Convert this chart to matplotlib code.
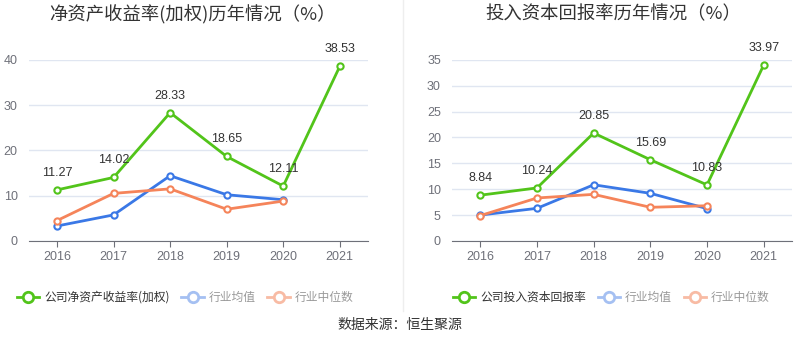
import matplotlib
matplotlib.use("Agg")
import matplotlib.pyplot as plt
from matplotlib.lines import Line2D

plt.rcParams['font.family'] = ['Noto Sans CJK SC', 'DejaVu Sans']

years = ['2016', '2017', '2018', '2019', '2020', '2021']

roe_company = [11.27, 14.02, 28.33, 18.65, 12.11, 38.53]
roe_mean = [3.3, 5.75, 14.4, 10.2, 9.1]
roe_median = [4.5, 10.5, 11.5, 7.0, 8.8]

roic_company = [8.84, 10.24, 20.85, 15.69, 10.83, 33.97]
roic_mean = [5.0, 6.3, 10.85, 9.2, 6.25]
roic_median = [4.9, 8.3, 9.0, 6.5, 6.8]

titles = ['净资产收益率(加权)历年情况（%）', '投入资本回报率历年情况（%）']
legend_company = ['公司净资产收益率(加权)', '公司投入资本回报率']
legend_mean = '行业均值'
legend_median = '行业中位数'
source = '数据来源：恒生聚源'

GREEN = '#52c41a'
BLUE = '#3a78e6'
ORANGE = '#f5845a'
GRID = '#e0e6f1'
AXIS = '#6e7079'
TICK = '#6e7079'
NUMFONT = ['Liberation Sans', 'DejaVu Sans']

fig = plt.figure(figsize=(8, 3.58), dpi=100)

configs = [
    dict(rect=[0.036, 0.327, 0.424, 0.506], comp=roe_company, mean=roe_mean,
         med=roe_median, yticks=[0, 10, 20, 30, 40], ymax=40),
    dict(rect=[0.565, 0.327, 0.425, 0.506], comp=roic_company, mean=roic_mean,
         med=roic_median, yticks=[0, 5, 10, 15, 20, 25, 30, 35], ymax=35),
]

for i, cfg in enumerate(configs):
    ax = fig.add_axes(cfg['rect'])
    x = list(range(len(years)))
    ax.plot(x[:len(cfg['mean'])], cfg['mean'], color=BLUE, lw=2, marker='o',
            ms=4.5, mfc='white', mec=BLUE, mew=1.5, zorder=3)
    ax.plot(x[:len(cfg['med'])], cfg['med'], color=ORANGE, lw=2, marker='o',
            ms=4.5, mfc='white', mec=ORANGE, mew=1.5, zorder=3)
    ax.plot(x, cfg['comp'], color=GREEN, lw=2, marker='o', ms=4.5,
            mfc='white', mec=GREEN, mew=1.5, zorder=4)
    for xi, v in zip(x, cfg['comp']):
        ax.annotate(f'{v:.2f}', (xi, v), xytext=(0, 8), textcoords='offset points',
                    ha='center', va='bottom', fontsize=9, color='#333333',
                    family=NUMFONT, zorder=5)
    ax.set_xlim(-0.5, len(years) - 0.5)
    ax.set_ylim(0, cfg['ymax'])
    ax.set_yticks(cfg['yticks'])
    ax.set_xticks(x)
    ax.set_xticklabels(years)
    ax.grid(axis='y', color=GRID, lw=1)
    ax.set_axisbelow(True)
    for s in ['top', 'right', 'left']:
        ax.spines[s].set_visible(False)
    ax.spines['bottom'].set_color(AXIS)
    ax.tick_params(axis='y', length=0, labelsize=9, labelcolor=TICK, pad=8)
    ax.tick_params(axis='x', length=4, color=AXIS, labelsize=9,
                   labelcolor=TICK, pad=3)
    for lbl in ax.get_xticklabels() + ax.get_yticklabels():
        lbl.set_family(NUMFONT)

    fig.text(0.24 if i == 0 else 0.766, 0.96, titles[i], ha='center',
             va='center', fontsize=13.2, color='#333333')

    handles = [
        Line2D([], [], color=GREEN, lw=2, marker='o', ms=7.5, mfc='white',
               mec=GREEN, mew=2),
        Line2D([], [], color='#a5c0f2', lw=2, marker='o', ms=7.5, mfc='white',
               mec='#a5c0f2', mew=2),
        Line2D([], [], color='#f8bba4', lw=2, marker='o', ms=7.5, mfc='white',
               mec='#f8bba4', mew=2),
    ]
    labels = [legend_company[i], legend_mean, legend_median]
    lx = 0.008 if i == 0 else 0.553
    leg = fig.legend(handles, labels, loc='center left',
                     bbox_to_anchor=(lx, 0.17), ncol=3, frameon=False,
                     fontsize=8.5, handlelength=1.9, handletextpad=0.4,
                     columnspacing=1.0)
    for j, t in enumerate(leg.get_texts()):
        t.set_color('#333333' if j == 0 else '#999999')

fig.add_artist(Line2D([0.504, 0.504], [0.13, 1.0], transform=fig.transFigure,
                      color='#eeeeee', lw=1))

fig.text(0.5, 0.092, source, ha='center', va='center', fontsize=10,
         color='#333333')

fig.savefig('out.png', dpi=100)
